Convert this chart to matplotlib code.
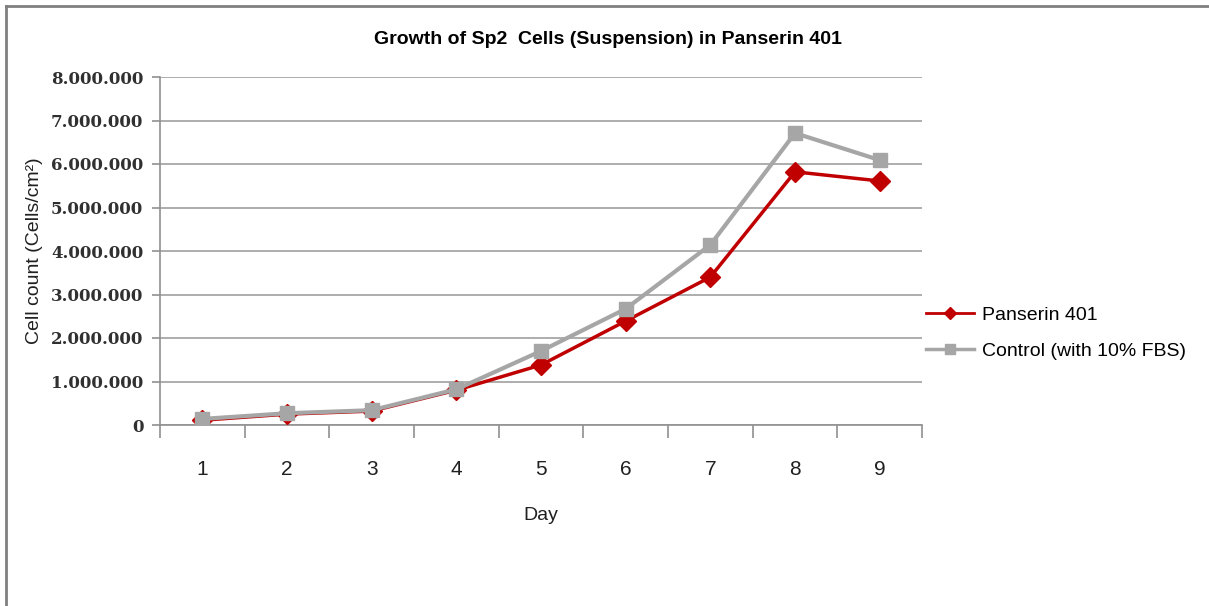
import matplotlib
matplotlib.use("Agg")
import matplotlib.pyplot as plt
from matplotlib.lines import Line2D
from matplotlib.ticker import FuncFormatter

days = [1, 2, 3, 4, 5, 6, 7, 8, 9]
panserin = [110000, 250000, 320000, 800000, 1380000, 2390000, 3400000, 5820000, 5610000]
control = [140000, 270000, 340000, 820000, 1700000, 2670000, 4140000, 6710000, 6090000]
y_ticks = [0, 1000000, 2000000, 3000000, 4000000, 5000000, 6000000, 7000000, 8000000]

plt.rcParams['font.family'] = ['Liberation Sans', 'DejaVu Sans']

fig = plt.figure(figsize=(12.09, 6.06), dpi=100)
ax = fig.add_axes([160/1209, 1 - 425/606, 762/1209, 348/606])

ax.plot(days, panserin, color='#c00000', lw=2.5, marker='D', ms=10, label='Panserin 401', zorder=3)
ax.plot(days, control, color='#a6a6a6', lw=3, marker='s', ms=10, label='Control (with 10% FBS)', zorder=4)

ax.set_xlim(0.5, 9.5)
ax.set_ylim(0, 8000000)
ax.set_yticks(y_ticks)
ax.yaxis.set_major_formatter(FuncFormatter(lambda v, p: '{:,.0f}'.format(v).replace(',', '.')))
ax.grid(axis='y', color='#a0a0a0', lw=1.2)
ax.set_axisbelow(True)

ax.set_xticks(days)
ax.set_xticks([d + 0.5 for d in [0] + days], minor=True)
ax.tick_params(axis='x', which='major', length=0, pad=25, labelsize=15, labelcolor='#202020')
ax.tick_params(axis='x', which='minor', length=9, color='#909090', width=1.2)
ax.tick_params(axis='y', length=6, color='#909090', width=1.2, labelsize=12, pad=6)
for lab in ax.get_yticklabels():
    lab.set_fontfamily('DejaVu Serif')
    lab.set_fontweight('bold')
    lab.set_color('#303030')

for s in ['top', 'right']:
    ax.spines[s].set_visible(False)
for s in ['left', 'bottom']:
    ax.spines[s].set_color('#909090')
    ax.spines[s].set_linewidth(1.2)

ax.set_xlabel('Day', fontsize=14, labelpad=20, color='#202020')
ax.set_ylabel('Cell count (Cells/cm²)', fontsize=14, labelpad=6, color='#202020')
fig.text(608/1209, 1 - 40/606, 'Growth of Sp2  Cells (Suspension) in Panserin 401',
         ha='center', va='center', fontsize=14, fontweight='bold')

handles = [Line2D([], [], color='#c00000', lw=2, marker='D', ms=6),
           Line2D([], [], color='#a6a6a6', lw=2.5, marker='s', ms=7)]
fig.legend(handles, ['Panserin 401', 'Control (with 10% FBS)'], loc='center left',
           bbox_to_anchor=(908/1209, 1 - 333/606), frameon=False, fontsize=14,
           handlelength=2.5, labelspacing=0.95, handletextpad=0.4)

fig.add_artist(Line2D([6/1209, 6/1209], [0, 1 - 6/606], color='#808080', lw=2, transform=fig.transFigure))
fig.add_artist(Line2D([6/1209, 1], [1 - 6/606, 1 - 6/606], color='#808080', lw=2, transform=fig.transFigure))

fig.savefig('out.png', dpi=100)
